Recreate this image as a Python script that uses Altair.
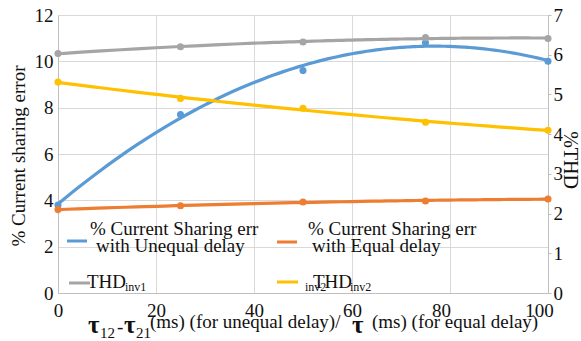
import altair as alt
import pandas as pd

# Measured values (x = delay in ms)
delay = [0, 25, 50, 75, 100]
err_unequal = [3.8, 7.7, 9.6, 10.8, 10.0]
err_equal = [3.6, 3.77, 3.93, 3.97, 4.06]
thd_inv1 = [6.03, 6.2, 6.32, 6.43, 6.41]
thd_inv2 = [5.31, 4.9, 4.65, 4.3, 4.1]

x_ticks = [0, 20, 40, 60, 80, 100]
left_ticks = [0, 2, 4, 6, 8, 10, 12]
right_ticks = [0, 1, 2, 3, 4, 5, 6, 7]

BLUE, ORANGE, GRAY, YELLOW = "#5B9BD5", "#ED7D31", "#A5A5A5", "#FFC000"
SERIF = "'Liberation Serif', 'Times New Roman', 'DejaVu Serif', serif"
INK = "#111111"
GRID = "#d9d9d9"
AXIS = "#bfbfbf"

err_df = pd.DataFrame({
    "delay": delay * 2,
    "value": err_unequal + err_equal,
    "series": ["unequal"] * 5 + ["equal"] * 5,
})
thd_df = pd.DataFrame({
    "delay": delay * 2,
    "value": thd_inv1 + thd_inv2,
    "series": ["inv1"] * 5 + ["inv2"] * 5,
})

x_enc = alt.X(
    "delay:Q",
    scale=alt.Scale(domain=[0, 100], nice=False),
    axis=alt.Axis(
        values=x_ticks, title=None, grid=True, gridColor=GRID, ticks=False,
        domainColor=AXIS, labelFont=SERIF, labelFontSize=19, labelColor=INK,
        labelPadding=8, labelFlush=False,
        labelOffset={"condition": {"test": "datum.value >= 80", "value": -9}, "value": 0},
    ),
)

err_color = alt.Color("series:N", legend=None,
                      scale=alt.Scale(domain=["unequal", "equal"], range=[BLUE, ORANGE]))
thd_color = alt.Color("series:N", legend=None,
                      scale=alt.Scale(domain=["inv1", "inv2"], range=[GRAY, YELLOW]))

y_left = alt.Y(
    "value:Q",
    scale=alt.Scale(domain=[0, 12], nice=False),
    axis=alt.Axis(
        orient="left", values=left_ticks, title=None, grid=True, gridColor=GRID,
        ticks=False, domainColor=AXIS, labelFont=SERIF, labelFontSize=19,
        labelColor=INK, labelPadding=5,
    ),
)
y_right = alt.Y(
    "value:Q",
    scale=alt.Scale(domain=[0, 7], nice=False),
    axis=alt.Axis(
        orient="right", values=right_ticks, title=None, grid=False,
        ticks=True, tickSize=3, tickColor=AXIS, domainColor=AXIS,
        labelFont=SERIF, labelFontSize=19, labelColor=INK, labelPadding=2,
    ),
)


def trend(df, y_enc, color_enc):
    base = alt.Chart(df)
    line = base.transform_regression(
        "delay", "value", method="poly", order=2, groupby=["series"], extent=[0, 100]
    ).mark_line(strokeWidth=3.2, interpolate="monotone").encode(
        x=x_enc, y=y_enc, color=color_enc
    )
    pts = base.mark_circle(size=50, opacity=1).encode(x=x_enc, y=y_enc, color=color_enc)
    return alt.layer(line, pts)


err_layer = trend(err_df, y_left, err_color)
thd_layer = trend(thd_df, y_right, thd_color)

ONE = alt.Data(values=[{}])


def txt(text, x, y, size=19, align="left", angle=0, weight="normal", baseline="alphabetic"):
    return alt.Chart(ONE).mark_text(
        text=text, font=SERIF, fontSize=size, fontWeight=weight, color=INK,
        align=align, baseline=baseline, angle=angle,
    ).encode(x=alt.value(x), y=alt.value(y))


def swatch(color, x1, x2, y):
    return alt.Chart(ONE).mark_rule(color=color, strokeWidth=3).encode(
        x=alt.value(x1), x2=alt.value(x2), y=alt.value(y)
    )


legend = [
    swatch(BLUE, 9, 29, 226),
    txt("% Current Sharing err", 32, 220),
    txt("with Unequal delay", 38, 237),
    swatch(ORANGE, 219, 239, 227),
    txt("% Current Sharing err", 250, 220),
    txt("with Equal delay", 254, 237),
    swatch(GRAY, 11, 32, 268),
    txt("THD", 29, 273),
    txt("inv1", 67, 276, size=12),
    swatch(YELLOW, 219, 240, 267),
    txt("inv2", 247, 276, size=12),
    txt("THD", 255, 273),
    txt("inv2", 292, 276, size=12),
]

titles = [
    txt("% Current sharing error", -39, 141, align="center", angle=270, baseline="middle"),
    txt("%THD", 512, 145, size=20, align="center", angle=90, baseline="middle"),
    txt("τ", 30, 318, size=25, weight="bold"),
    txt("12", 42, 323, size=15),
    txt("-", 59, 318, size=19),
    txt("τ", 66, 318, size=25, weight="bold"),
    txt("21", 78, 323, size=15),
    txt("(ms) (for unequal delay)/", 92, 313, size=19),
    txt("τ", 294, 318, size=25, weight="bold"),
    txt("(ms) (for equal delay)", 314, 313, size=19),
]

chart = alt.layer(err_layer, thd_layer, *legend, *titles).resolve_scale(
    y="independent", color="independent"
).properties(
    width=490,
    height=278,
    autosize=alt.AutoSizeParams(type="none"),
    padding={"left": 58, "top": 15, "right": 33, "bottom": 48},
).configure_view(stroke=None).configure(background="white")

chart.save("out.html", embed_options={"renderer": "svg", "actions": False})
